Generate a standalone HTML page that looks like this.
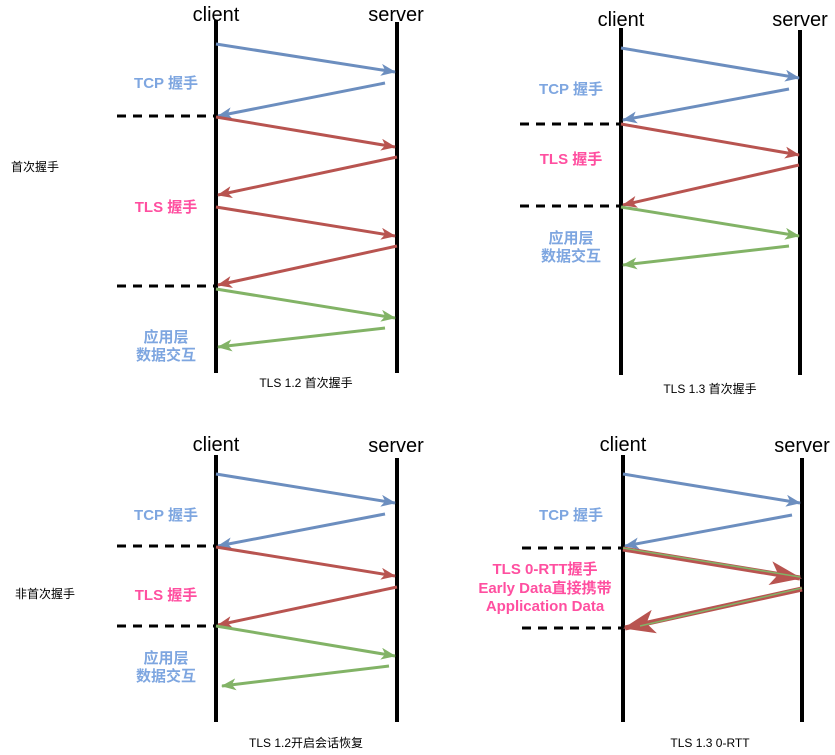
<!DOCTYPE html>
<html><head><meta charset="utf-8"><style>
html,body{margin:0;padding:0;background:#fff;}
svg{display:block;font-family:"Liberation Sans","Noto Sans CJK SC",sans-serif;}
.lbl{font-size:20px;fill:#000;}
.bl{fill:#7ea6e0;font-weight:bold;font-size:15px;text-anchor:middle;}
.pk{fill:#ff4fa0;font-weight:bold;font-size:15px;text-anchor:middle;}
.cap{font-size:12px;fill:#000;text-anchor:middle;}
</style></head><body>
<svg width="835" height="755" viewBox="0 0 835 755" xmlns="http://www.w3.org/2000/svg">
<defs>
<marker id="mb" markerWidth="15" markerHeight="12" refX="14" refY="6" orient="auto" markerUnits="userSpaceOnUse"><path d="M0,0 L15,6 L0,12 L4,6 Z" fill="#6c8ebf"/></marker>
<marker id="mr" markerWidth="15" markerHeight="12" refX="14" refY="6" orient="auto" markerUnits="userSpaceOnUse"><path d="M0,0 L15,6 L0,12 L4,6 Z" fill="#b85450"/></marker>
<marker id="mg" markerWidth="15" markerHeight="12" refX="14" refY="6" orient="auto" markerUnits="userSpaceOnUse"><path d="M0,0 L15,6 L0,12 L4,6 Z" fill="#82b366"/></marker>
<marker id="mR" markerWidth="32" markerHeight="24" refX="30" refY="12" orient="auto" markerUnits="userSpaceOnUse"><path d="M0,0 L32,12 L0,24 L8,12 Z" fill="#b85450"/></marker>
</defs>
<g stroke="#000" stroke-width="4">
<line x1="216" y1="20" x2="216" y2="373"/><line x1="397" y1="22" x2="397" y2="373"/>
<line x1="621" y1="28" x2="621" y2="375"/><line x1="800" y1="30" x2="800" y2="375"/>
<line x1="216" y1="455" x2="216" y2="722"/><line x1="397" y1="458" x2="397" y2="722"/>
<line x1="623" y1="455" x2="623" y2="722"/><line x1="802" y1="458" x2="802" y2="722"/>
</g>
<g stroke="#000" stroke-width="3" stroke-dasharray="9,7">
<line x1="117" y1="116" x2="214" y2="116"/><line x1="117" y1="286" x2="214" y2="286"/>
<line x1="520" y1="124" x2="619" y2="124"/><line x1="520" y1="206" x2="619" y2="206"/>
<line x1="117" y1="546" x2="214" y2="546"/><line x1="117" y1="626" x2="214" y2="626"/>
<line x1="522" y1="548" x2="621" y2="548"/><line x1="522" y1="628" x2="621" y2="628"/>
</g>
<g stroke-width="3" fill="none">
<line x1="216" y1="44" x2="395" y2="72" stroke="#6c8ebf" marker-end="url(#mb)"/>
<line x1="385" y1="83" x2="218" y2="116" stroke="#6c8ebf" marker-end="url(#mb)"/>
<line x1="216" y1="117" x2="395" y2="147" stroke="#b85450" marker-end="url(#mr)"/>
<line x1="397" y1="157" x2="218" y2="195" stroke="#b85450" marker-end="url(#mr)"/>
<line x1="216" y1="207" x2="395" y2="236" stroke="#b85450" marker-end="url(#mr)"/>
<line x1="397" y1="246" x2="218" y2="285" stroke="#b85450" marker-end="url(#mr)"/>
<line x1="216" y1="289" x2="395" y2="318" stroke="#82b366" marker-end="url(#mg)"/>
<line x1="385" y1="328" x2="218" y2="347" stroke="#82b366" marker-end="url(#mg)"/>

<line x1="621" y1="48" x2="799" y2="78" stroke="#6c8ebf" marker-end="url(#mb)"/>
<line x1="789" y1="89" x2="623" y2="120" stroke="#6c8ebf" marker-end="url(#mb)"/>
<line x1="621" y1="124" x2="799" y2="155" stroke="#b85450" marker-end="url(#mr)"/>
<line x1="799" y1="165" x2="623" y2="205" stroke="#b85450" marker-end="url(#mr)"/>
<line x1="621" y1="207" x2="799" y2="236" stroke="#82b366" marker-end="url(#mg)"/>
<line x1="789" y1="246" x2="623" y2="265" stroke="#82b366" marker-end="url(#mg)"/>

<line x1="216" y1="474" x2="395" y2="503" stroke="#6c8ebf" marker-end="url(#mb)"/>
<line x1="385" y1="514" x2="218" y2="546" stroke="#6c8ebf" marker-end="url(#mb)"/>
<line x1="216" y1="547" x2="395" y2="576" stroke="#b85450" marker-end="url(#mr)"/>
<line x1="397" y1="587" x2="218" y2="625" stroke="#b85450" marker-end="url(#mr)"/>
<line x1="216" y1="626" x2="395" y2="656" stroke="#82b366" marker-end="url(#mg)"/>
<line x1="389" y1="666" x2="222" y2="686" stroke="#82b366" marker-end="url(#mg)"/>

<line x1="623" y1="474" x2="800" y2="503" stroke="#6c8ebf" marker-end="url(#mb)"/>
<line x1="792" y1="515" x2="625" y2="546" stroke="#6c8ebf" marker-end="url(#mb)"/>
<line x1="623" y1="549" x2="800" y2="578" stroke="#b85450" stroke-width="5" marker-end="url(#mR)"/>
<line x1="623" y1="548" x2="800" y2="577" stroke="#82b366" stroke-width="1.5"/>
<line x1="802" y1="589" x2="625" y2="628" stroke="#b85450" stroke-width="5" marker-end="url(#mR)"/>
<line x1="802" y1="588" x2="640" y2="626" stroke="#82b366" stroke-width="1.5"/>
</g>
<g class="lbl">
<text x="216" y="21" text-anchor="middle">client</text><text x="396" y="21" text-anchor="middle">server</text>
<text x="621" y="26" text-anchor="middle">client</text><text x="800" y="26" text-anchor="middle">server</text>
<text x="216" y="451" text-anchor="middle">client</text><text x="396" y="452" text-anchor="middle">server</text>
<text x="623" y="451" text-anchor="middle">client</text><text x="802" y="452" text-anchor="middle">server</text>
</g>
<text class="bl" x="166" y="88">TCP 握手</text>
<text class="pk" x="166" y="212">TLS 握手</text>
<text class="bl" x="166" y="342">应用层</text><text class="bl" x="166" y="360">数据交互</text>
<text class="bl" x="571" y="94">TCP 握手</text>
<text class="pk" x="571" y="164">TLS 握手</text>
<text class="bl" x="571" y="243">应用层</text><text class="bl" x="571" y="261">数据交互</text>
<text class="bl" x="166" y="520">TCP 握手</text>
<text class="pk" x="166" y="600">TLS 握手</text>
<text class="bl" x="166" y="663">应用层</text><text class="bl" x="166" y="681">数据交互</text>
<text class="bl" x="571" y="520">TCP 握手</text>
<text class="pk" x="545" y="574">TLS  0-RTT握手</text>
<text class="pk" x="545" y="593">Early Data直接携带</text>
<text class="pk" x="545" y="611">Application Data</text>
<text class="cap" x="306" y="387">TLS 1.2 首次握手</text>
<text class="cap" x="710" y="393">TLS 1.3 首次握手</text>
<text class="cap" x="306" y="747">TLS 1.2开启会话恢复</text>
<text class="cap" x="710" y="747">TLS 1.3 0-RTT</text>
<text class="cap" x="35" y="171">首次握手</text>
<text class="cap" x="45" y="598">非首次握手</text>
</svg>
</body></html>
